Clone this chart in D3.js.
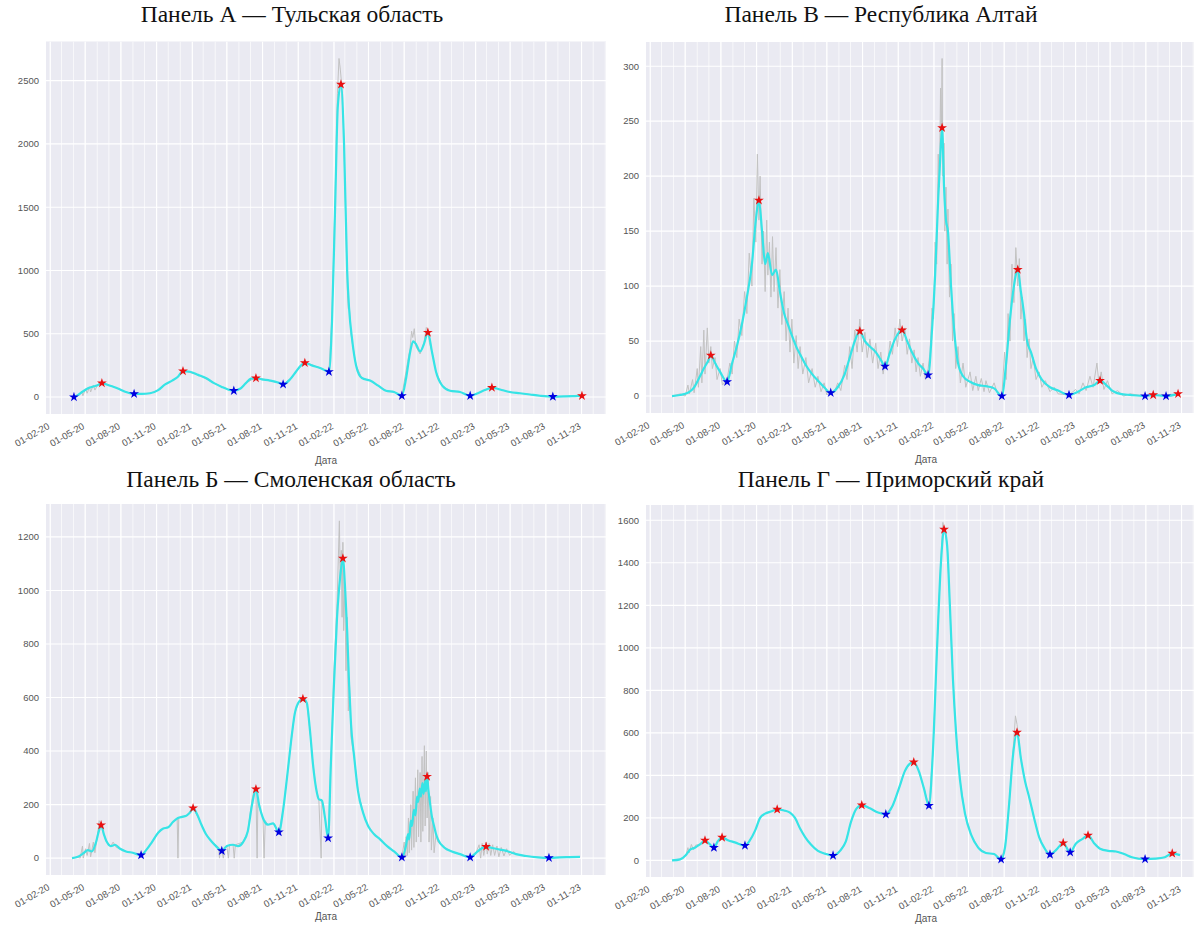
<!DOCTYPE html>
<html><head><meta charset="utf-8">
<script src="https://cdn.jsdelivr.net/npm/d3@7"></script>
<style>body{margin:0;background:#fff}svg{display:block}</style>
</head><body>
<script>
// ---------- DATA ----------
const xTickFormat = "%d-%m-%y";
const titles = ["Панель А — Тульская область","Панель В — Республика Алтай","Панель Б — Смоленская область","Панель Г — Приморский край"];
const xAxisLabel = "Дата";
const tulaTicks = [0,500,1000,1500,2000,2500];
const altaiTicks = [0,50,100,150,200,250,300];
const smolTicks = [0,200,400,600,800,1000,1200];
const primTicks = [0,200,400,600,800,1000,1200,1400,1600];

const tulaSmooth = [["2020-04-02",0],["2020-04-12",15],["2020-04-23",40],["2020-05-03",60],["2020-05-13",75],["2020-05-24",85],["2020-06-03",95],["2020-06-13",110],["2020-06-29",95],["2020-07-14",80],["2020-07-30",60],["2020-08-14",40],["2020-09-04",25],["2020-09-24",25],["2020-10-15",30],["2020-11-05",55],["2020-11-23",100],["2020-12-11",130],["2020-12-26",160],["2021-01-08",205],["2021-01-26",200],["2021-02-16",175],["2021-03-08",150],["2021-03-29",110],["2021-04-18",80],["2021-05-04",60],["2021-05-19",50],["2021-06-04",65],["2021-06-19",110],["2021-07-02",145],["2021-07-15",150],["2021-07-30",140],["2021-08-20",130],["2021-09-10",115],["2021-09-23",100],["2021-10-11",140],["2021-10-26",200],["2021-11-08",250],["2021-11-18",270],["2021-12-06",250],["2021-12-27",230],["2022-01-11",210],["2022-01-19",200],["2022-01-27",600],["2022-02-04",1500],["2022-02-11",2300],["2022-02-19",2470],["2022-02-27",2000],["2022-03-07",1000],["2022-03-12",700],["2022-03-20",450],["2022-03-30",250],["2022-04-14",150],["2022-05-05",130],["2022-05-26",90],["2022-06-15",50],["2022-07-06",40],["2022-07-26",10],["2022-08-06",150],["2022-08-16",350],["2022-08-24",440],["2022-08-31",420],["2022-09-11",360],["2022-09-21",420],["2022-10-01",510],["2022-10-12",350],["2022-10-22",200],["2022-11-07",90],["2022-11-27",50],["2022-12-23",40],["2023-01-18",10],["2023-02-07",30],["2023-02-25",55],["2023-03-15",75],["2023-04-05",60],["2023-04-30",40],["2023-05-26",30],["2023-06-21",20],["2023-07-17",10],["2023-08-19",3],["2023-09-19",5],["2023-10-15",8],["2023-11-02",10]];
const tulaRaw = [["2020-04-02",0],["2020-04-15",20],["2020-04-22",45],["2020-04-25",10],["2020-05-02",65],["2020-05-06",30],["2020-05-12",80],["2020-05-15",40],["2020-05-22",95],["2020-05-26",55],["2020-06-03",100],["2020-06-13",115],["2020-06-29",95],["2020-07-14",80],["2020-07-30",60],["2020-08-14",40],["2020-09-04",25],["2020-10-15",30],["2020-11-05",55],["2020-11-23",100],["2020-12-11",130],["2020-12-26",160],["2021-01-08",210],["2021-02-16",175],["2021-03-29",110],["2021-05-04",60],["2021-05-19",50],["2021-06-04",65],["2021-06-19",110],["2021-07-15",155],["2021-08-20",130],["2021-09-23",100],["2021-10-11",140],["2021-10-26",200],["2021-11-18",275],["2021-12-27",230],["2022-01-19",200],["2022-01-27",650],["2022-02-04",1600],["2022-02-10",2400],["2022-02-14",2675],["2022-02-17",2600],["2022-02-20",2500],["2022-02-26",2100],["2022-03-04",1300],["2022-03-08",800],["2022-03-10",700],["2022-03-12",720],["2022-03-14",650],["2022-03-17",500],["2022-03-20",430],["2022-03-30",250],["2022-04-14",150],["2022-05-05",130],["2022-05-26",90],["2022-06-15",50],["2022-07-06",40],["2022-07-26",10],["2022-08-10",280],["2022-08-16",380],["2022-08-20",520],["2022-08-23",470],["2022-08-27",540],["2022-08-31",400],["2022-09-11",340],["2022-09-21",430],["2022-09-27",550],["2022-10-01",520],["2022-10-05",430],["2022-10-12",350],["2022-10-22",200],["2022-11-07",90],["2022-11-27",50],["2022-12-23",40],["2023-01-18",10],["2023-02-07",30],["2023-02-25",55],["2023-03-15",78],["2023-04-05",60],["2023-04-30",40],["2023-05-26",30],["2023-06-21",20],["2023-07-17",10],["2023-08-19",3],["2023-09-19",5],["2023-10-15",8],["2023-11-02",10]];
const tulaPeaks = [["2020-06-13",110],["2021-01-08",205],["2021-07-15",150],["2021-11-18",270],["2022-02-19",2470],["2022-10-01",510],["2023-03-15",75],["2023-11-02",10]];
const tulaTroughs = [["2020-04-02",0],["2020-09-04",25],["2021-05-19",50],["2021-09-23",100],["2022-01-19",200],["2022-07-26",10],["2023-01-18",10],["2023-08-19",3]];

const altaiSmooth = [["2020-03-28",0],["2020-04-18",1],["2020-05-08",3],["2020-05-24",8],["2020-06-08",18],["2020-06-18",25],["2020-06-29",32],["2020-07-06",37],["2020-07-17",30],["2020-07-30",22],["2020-08-17",13],["2020-08-30",30],["2020-09-11",45],["2020-09-24",65],["2020-10-07",90],["2020-10-20",120],["2020-10-30",160],["2020-11-07",178],["2020-11-15",150],["2020-11-23",120],["2020-11-30",130],["2020-12-11",110],["2020-12-21",115],["2020-12-31",95],["2021-01-11",75],["2021-01-21",65],["2021-01-31",55],["2021-02-11",45],["2021-02-21",38],["2021-03-08",28],["2021-03-24",20],["2021-04-08",14],["2021-04-24",8],["2021-05-11",3],["2021-05-29",8],["2021-06-16",20],["2021-06-29",35],["2021-07-12",50],["2021-07-25",59],["2021-08-07",50],["2021-08-20",45],["2021-09-04",40],["2021-09-17",33],["2021-09-28",27],["2021-10-11",40],["2021-10-24",52],["2021-11-11",60],["2021-11-24",50],["2021-12-06",40],["2021-12-22",30],["2022-01-04",25],["2022-01-17",19],["2022-01-27",60],["2022-02-04",110],["2022-02-12",180],["2022-02-17",215],["2022-02-22",244],["2022-02-27",190],["2022-03-04",160],["2022-03-09",150],["2022-03-17",100],["2022-03-25",60],["2022-04-04",30],["2022-04-17",18],["2022-05-05",13],["2022-05-26",10],["2022-06-15",9],["2022-07-06",7],["2022-07-26",0],["2022-08-06",30],["2022-08-16",70],["2022-08-26",100],["2022-09-05",115],["2022-09-13",95],["2022-09-21",75],["2022-09-29",50],["2022-10-09",40],["2022-10-22",25],["2022-11-06",15],["2022-11-27",8],["2022-12-18",5],["2023-01-15",1],["2023-02-07",4],["2023-02-28",8],["2023-03-21",10],["2023-04-05",14],["2023-04-21",10],["2023-05-06",5],["2023-05-27",2],["2023-06-22",1],["2023-07-30",0],["2023-08-20",1],["2023-09-22",0],["2023-10-23",2]];
const altaiRaw = [["2020-03-28",0],["2020-04-18",2],["2020-05-01",0],["2020-05-08",10],["2020-05-12",2],["2020-05-20",15],["2020-05-24",3],["2020-06-01",25],["2020-06-04",8],["2020-06-10",45],["2020-06-13",12],["2020-06-18",60],["2020-06-21",20],["2020-06-27",62],["2020-07-01",30],["2020-07-06",45],["2020-07-10",25],["2020-07-17",35],["2020-07-22",15],["2020-07-30",25],["2020-08-05",10],["2020-08-17",15],["2020-08-24",30],["2020-08-30",20],["2020-09-05",50],["2020-09-11",35],["2020-09-17",70],["2020-09-24",55],["2020-10-01",95],["2020-10-07",75],["2020-10-13",130],["2020-10-20",100],["2020-10-25",180],["2020-10-30",140],["2020-11-03",220],["2020-11-07",160],["2020-11-10",200],["2020-11-15",120],["2020-11-19",150],["2020-11-23",95],["2020-11-27",160],["2020-11-30",110],["2020-12-04",140],["2020-12-08",90],["2020-12-12",145],["2020-12-16",95],["2020-12-21",135],["2020-12-26",80],["2020-12-31",115],["2021-01-05",65],["2021-01-11",95],["2021-01-16",50],["2021-01-21",80],["2021-01-26",40],["2021-01-31",70],["2021-02-05",30],["2021-02-11",55],["2021-02-16",25],["2021-02-21",45],["2021-02-28",20],["2021-03-08",35],["2021-03-15",12],["2021-03-24",25],["2021-04-01",8],["2021-04-08",18],["2021-04-16",4],["2021-04-24",12],["2021-05-01",1],["2021-05-11",5],["2021-05-20",3],["2021-05-29",12],["2021-06-06",5],["2021-06-16",28],["2021-06-22",15],["2021-06-29",45],["2021-07-05",25],["2021-07-12",60],["2021-07-18",40],["2021-07-25",70],["2021-07-31",40],["2021-08-07",58],["2021-08-13",35],["2021-08-20",52],["2021-08-27",30],["2021-09-04",48],["2021-09-10",25],["2021-09-17",40],["2021-09-23",20],["2021-09-28",32],["2021-10-04",28],["2021-10-11",50],["2021-10-17",38],["2021-10-24",62],["2021-10-30",45],["2021-11-05",70],["2021-11-11",50],["2021-11-18",62],["2021-11-24",38],["2021-11-30",52],["2021-12-06",30],["2021-12-12",42],["2021-12-17",22],["2021-12-22",35],["2021-12-28",18],["2022-01-04",30],["2022-01-10",15],["2022-01-17",25],["2022-01-22",40],["2022-01-27",80],["2022-01-31",70],["2022-02-04",140],["2022-02-08",120],["2022-02-12",220],["2022-02-15",190],["2022-02-18",280],["2022-02-20",230],["2022-02-22",307],["2022-02-24",200],["2022-02-27",230],["2022-03-01",150],["2022-03-04",190],["2022-03-07",120],["2022-03-09",170],["2022-03-13",90],["2022-03-17",120],["2022-03-21",50],["2022-03-25",75],["2022-03-29",25],["2022-04-04",45],["2022-04-10",12],["2022-04-17",30],["2022-04-24",8],["2022-05-05",22],["2022-05-12",5],["2022-05-20",18],["2022-05-26",5],["2022-06-03",16],["2022-06-10",4],["2022-06-15",14],["2022-06-24",3],["2022-07-06",12],["2022-07-15",2],["2022-07-26",0],["2022-08-02",40],["2022-08-06",15],["2022-08-11",75],["2022-08-16",50],["2022-08-21",120],["2022-08-26",85],["2022-08-31",135],["2022-09-05",100],["2022-09-09",125],["2022-09-13",70],["2022-09-17",90],["2022-09-21",50],["2022-09-25",70],["2022-09-29",35],["2022-10-04",52],["2022-10-09",25],["2022-10-15",35],["2022-10-22",15],["2022-10-30",22],["2022-11-06",8],["2022-11-15",14],["2022-11-27",4],["2022-12-08",8],["2022-12-18",2],["2023-01-15",1],["2023-02-01",6],["2023-02-10",2],["2023-02-20",12],["2023-02-28",5],["2023-03-10",18],["2023-03-18",8],["2023-03-28",30],["2023-04-02",12],["2023-04-08",22],["2023-04-15",6],["2023-04-24",14],["2023-05-06",2],["2023-05-20",5],["2023-06-05",0],["2023-06-22",2],["2023-07-30",0],["2023-10-23",2]];
const altaiPeaks = [["2020-07-06",37],["2020-11-07",178],["2021-07-25",59],["2021-11-11",60],["2022-02-22",244],["2022-09-05",115],["2023-04-05",14],["2023-08-20",1],["2023-10-23",2]];
const altaiTroughs = [["2020-08-17",13],["2021-05-11",3],["2021-09-28",27],["2022-01-17",19],["2022-07-26",0],["2023-01-15",1],["2023-07-30",0],["2023-09-22",0]];

const smolSmooth = [["2020-03-28",0],["2020-04-12",5],["2020-04-28",20],["2020-05-08",30],["2020-05-18",25],["2020-05-29",60],["2020-06-05",100],["2020-06-11",123],["2020-06-18",90],["2020-06-26",60],["2020-07-06",45],["2020-07-17",50],["2020-07-30",35],["2020-08-14",25],["2020-09-01",20],["2020-09-22",11],["2020-10-05",30],["2020-10-20",60],["2020-11-05",95],["2020-11-17",110],["2020-12-01",115],["2020-12-13",135],["2020-12-26",150],["2021-01-08",155],["2021-01-18",160],["2021-01-26",170],["2021-02-03",187],["2021-02-13",165],["2021-02-23",130],["2021-03-08",90],["2021-03-21",65],["2021-04-03",45],["2021-04-18",27],["2021-05-01",45],["2021-05-17",50],["2021-05-30",45],["2021-06-12",60],["2021-06-24",100],["2021-07-05",200],["2021-07-15",258],["2021-07-23",200],["2021-08-02",150],["2021-08-15",125],["2021-08-28",130],["2021-09-12",97],["2021-09-23",180],["2021-10-03",300],["2021-10-13",430],["2021-10-23",540],["2021-11-03",585],["2021-11-13",595],["2021-11-23",580],["2021-12-01",480],["2021-12-09",350],["2021-12-17",260],["2021-12-24",220],["2022-01-01",215],["2022-01-09",150],["2022-01-17",75],["2022-01-24",350],["2022-02-01",650],["2022-02-09",900],["2022-02-17",1050],["2022-02-24",1120],["2022-03-02",1000],["2022-03-07",850],["2022-03-12",650],["2022-03-17",500],["2022-03-25",380],["2022-04-04",250],["2022-04-17",170],["2022-04-30",120],["2022-05-15",90],["2022-05-31",70],["2022-06-18",45],["2022-07-06",25],["2022-07-26",3],["2022-08-06",50],["2022-08-11",90],["2022-08-14",70],["2022-08-18",140],["2022-08-21",120],["2022-08-26",180],["2022-08-30",160],["2022-09-03",230],["2022-09-06",210],["2022-09-10",260],["2022-09-13",230],["2022-09-17",280],["2022-09-20",240],["2022-09-24",290],["2022-09-26",250],["2022-09-29",305],["2022-10-02",260],["2022-10-07",200],["2022-10-12",150],["2022-10-17",120],["2022-10-22",90],["2022-10-27",70],["2022-11-12",40],["2022-12-02",25],["2022-12-23",15],["2023-01-18",3],["2023-02-02",20],["2023-02-15",35],["2023-02-28",43],["2023-03-15",38],["2023-04-05",32],["2023-04-26",25],["2023-05-16",15],["2023-06-11",8],["2023-07-12",3],["2023-08-09",1],["2023-09-06",3],["2023-10-02",4],["2023-10-28",5]];
const smolRaw = [["2020-03-28",0],["2020-04-12",5],["2020-04-18",0],["2020-04-24",45],["2020-04-26",0],["2020-05-02",35],["2020-05-06",10],["2020-05-12",55],["2020-05-15",5],["2020-05-22",60],["2020-05-26",20],["2020-06-02",90],["2020-06-06",140],["2020-06-11",125],["2020-06-16",100],["2020-06-22",70],["2020-06-29",55],["2020-07-06",45],["2020-07-12",60],["2020-07-20",40],["2020-07-30",35],["2020-08-14",25],["2020-09-01",20],["2020-09-22",11],["2020-10-05",30],["2020-10-20",60],["2020-11-05",95],["2020-11-17",110],["2020-12-01",115],["2020-12-13",135],["2020-12-24",150],["2020-12-26",0],["2020-12-28",150],["2021-01-18",160],["2021-02-03",190],["2021-02-23",130],["2021-03-08",90],["2021-03-21",65],["2021-04-10",40],["2021-04-12",0],["2021-04-14",35],["2021-04-18",27],["2021-04-22",0],["2021-04-25",40],["2021-05-01",45],["2021-05-05",0],["2021-05-08",50],["2021-05-17",50],["2021-05-20",0],["2021-05-23",50],["2021-06-12",60],["2021-06-24",100],["2021-07-05",220],["2021-07-12",265],["2021-07-15",250],["2021-07-18",0],["2021-07-20",220],["2021-07-23",190],["2021-08-02",150],["2021-08-05",0],["2021-08-08",140],["2021-08-15",125],["2021-08-28",130],["2021-09-12",97],["2021-09-23",180],["2021-10-03",300],["2021-10-13",430],["2021-10-23",540],["2021-11-03",585],["2021-11-13",600],["2021-11-23",580],["2021-12-01",480],["2021-12-09",350],["2021-12-17",260],["2021-12-24",220],["2021-12-30",0],["2022-01-01",215],["2022-01-09",150],["2022-01-17",75],["2022-01-24",350],["2022-02-01",700],["2022-02-09",950],["2022-02-15",1260],["2022-02-17",1050],["2022-02-20",1150],["2022-02-22",900],["2022-02-24",1180],["2022-02-26",850],["2022-03-01",1000],["2022-03-04",700],["2022-03-07",900],["2022-03-10",550],["2022-03-13",650],["2022-03-17",450],["2022-03-25",380],["2022-04-04",250],["2022-04-17",170],["2022-04-30",120],["2022-05-15",90],["2022-05-31",70],["2022-06-18",45],["2022-07-06",25],["2022-07-26",3],["2022-08-01",60],["2022-08-03",0],["2022-08-06",80],["2022-08-09",10],["2022-08-12",150],["2022-08-14",20],["2022-08-18",200],["2022-08-20",30],["2022-08-24",250],["2022-08-26",40],["2022-08-30",300],["2022-09-01",60],["2022-09-05",330],["2022-09-07",80],["2022-09-11",320],["2022-09-13",60],["2022-09-16",380],["2022-09-18",100],["2022-09-22",420],["2022-09-24",120],["2022-09-27",400],["2022-09-29",150],["2022-10-02",320],["2022-10-04",60],["2022-10-08",230],["2022-10-10",30],["2022-10-14",150],["2022-10-17",20],["2022-10-22",90],["2022-10-27",60],["2022-11-12",40],["2022-12-02",25],["2022-12-23",15],["2023-01-18",3],["2023-02-02",20],["2023-02-10",50],["2023-02-14",0],["2023-02-18",55],["2023-02-22",10],["2023-02-28",60],["2023-03-03",15],["2023-03-08",55],["2023-03-12",10],["2023-03-17",50],["2023-03-22",10],["2023-03-28",45],["2023-04-02",5],["2023-04-08",40],["2023-04-15",8],["2023-04-22",35],["2023-04-30",10],["2023-05-10",25],["2023-05-16",15],["2023-06-11",8],["2023-07-12",3],["2023-08-09",1],["2023-09-06",3],["2023-10-02",4],["2023-10-28",5]];
const smolPeaks = [["2020-06-11",123],["2021-02-03",187],["2021-07-15",258],["2021-11-13",595],["2022-02-24",1120],["2022-09-29",305],["2023-02-28",43]];
const smolTroughs = [["2020-09-22",11],["2021-04-18",27],["2021-09-12",97],["2022-01-17",75],["2022-07-26",3],["2023-01-18",3],["2023-08-09",1]];

const primSmooth = [["2020-03-28",0],["2020-04-18",5],["2020-05-03",25],["2020-05-13",50],["2020-05-26",60],["2020-06-08",75],["2020-06-21",94],["2020-07-01",80],["2020-07-14",60],["2020-07-24",90],["2020-08-04",108],["2020-08-19",95],["2020-09-06",85],["2020-10-02",70],["2020-10-15",95],["2020-10-28",140],["2020-11-10",200],["2020-11-23",220],["2020-12-08",230],["2020-12-24",240],["2021-01-11",235],["2021-01-26",225],["2021-02-08",200],["2021-02-21",150],["2021-03-06",110],["2021-03-21",75],["2021-04-08",45],["2021-04-26",32],["2021-05-17",23],["2021-06-04",45],["2021-06-19",90],["2021-07-02",180],["2021-07-15",240],["2021-07-30",260],["2021-08-20",245],["2021-09-10",225],["2021-09-30",217],["2021-10-18",260],["2021-11-03",340],["2021-11-18",420],["2021-12-01",455],["2021-12-11",462],["2021-12-24",420],["2022-01-06",340],["2022-01-19",258],["2022-01-29",500],["2022-02-09",1000],["2022-02-19",1400],["2022-02-27",1557],["2022-03-07",1480],["2022-03-14",1200],["2022-03-22",850],["2022-03-30",600],["2022-04-09",380],["2022-04-22",220],["2022-05-08",120],["2022-05-26",60],["2022-06-15",35],["2022-07-06",30],["2022-07-24",5],["2022-08-03",60],["2022-08-13",250],["2022-08-24",500],["2022-09-03",602],["2022-09-13",480],["2022-09-24",370],["2022-10-04",300],["2022-10-17",200],["2022-10-30",110],["2022-11-12",60],["2022-11-27",28],["2022-12-13",50],["2022-12-31",82],["2023-01-18",38],["2023-02-02",80],["2023-02-18",100],["2023-03-05",118],["2023-03-21",80],["2023-04-05",55],["2023-04-26",45],["2023-05-16",42],["2023-06-06",30],["2023-06-26",15],["2023-07-30",6],["2023-08-25",8],["2023-09-19",15],["2023-10-08",33],["2023-10-28",25]];
const primRaw = [["2020-03-28",0],["2020-04-18",5],["2020-05-03",25],["2020-05-08",60],["2020-05-11",35],["2020-05-17",75],["2020-05-22",50],["2020-05-28",72],["2020-06-08",75],["2020-06-21",100],["2020-07-01",80],["2020-07-14",60],["2020-07-24",90],["2020-08-04",112],["2020-08-19",95],["2020-09-06",85],["2020-10-02",70],["2020-10-15",95],["2020-10-28",140],["2020-11-10",200],["2020-11-23",220],["2020-12-08",230],["2020-12-24",245],["2021-01-11",235],["2021-01-26",225],["2021-02-08",200],["2021-02-21",150],["2021-03-06",110],["2021-03-21",75],["2021-04-08",45],["2021-04-26",32],["2021-05-17",23],["2021-06-04",45],["2021-06-19",90],["2021-07-02",180],["2021-07-15",240],["2021-07-30",265],["2021-08-20",245],["2021-09-10",225],["2021-09-30",217],["2021-10-18",260],["2021-11-03",340],["2021-11-18",420],["2021-12-01",455],["2021-12-11",470],["2021-12-24",420],["2022-01-06",340],["2022-01-19",258],["2022-01-29",500],["2022-02-09",1000],["2022-02-19",1420],["2022-02-24",1590],["2022-02-27",1560],["2022-03-07",1490],["2022-03-14",1200],["2022-03-22",850],["2022-03-30",600],["2022-04-09",380],["2022-04-22",220],["2022-05-08",120],["2022-05-26",60],["2022-06-15",35],["2022-07-06",30],["2022-07-24",5],["2022-08-03",60],["2022-08-13",250],["2022-08-24",520],["2022-08-30",680],["2022-09-03",640],["2022-09-08",560],["2022-09-13",480],["2022-09-24",370],["2022-10-04",300],["2022-10-17",200],["2022-10-30",110],["2022-11-12",60],["2022-11-27",28],["2022-12-13",50],["2022-12-31",85],["2023-01-18",38],["2023-02-02",80],["2023-02-18",100],["2023-03-05",120],["2023-03-21",80],["2023-04-05",55],["2023-04-26",45],["2023-05-16",42],["2023-06-06",30],["2023-06-26",15],["2023-07-30",6],["2023-08-25",8],["2023-09-19",15],["2023-10-08",35],["2023-10-28",25]];
const primPeaks = [["2020-06-21",94],["2020-08-04",108],["2020-12-24",240],["2021-07-30",260],["2021-12-11",462],["2022-02-27",1557],["2022-09-03",602],["2022-12-31",82],["2023-03-05",118],["2023-10-08",33]];
const primTroughs = [["2020-07-14",60],["2020-10-02",70],["2021-05-17",23],["2021-09-30",217],["2022-01-19",258],["2022-07-24",5],["2022-11-27",28],["2023-01-18",38],["2023-07-30",6]];

// ---------- LAYOUT ----------
const W = 1194, H = 927;
const parse = d3.timeParse("%Y-%m-%d");
const xStart = parse("2020-01-21"), xEnd = parse("2024-01-03");
const panels = [
  {title: titles[0], tx: 292, ty: 22, left: 46, right: 606, top: 41.5, bottom: 414, yDom: [-134, 2809], ticks: tulaTicks, smooth: tulaSmooth, raw: tulaRaw, peaks: tulaPeaks, troughs: tulaTroughs},
  {title: titles[1], tx: 881, ty: 22, left: 646, right: 1206, top: 42, bottom: 413, yDom: [-15.4, 322], ticks: altaiTicks, smooth: altaiSmooth, raw: altaiRaw, peaks: altaiPeaks, troughs: altaiTroughs},
  {title: titles[2], tx: 291, ty: 487, left: 46, right: 606, top: 504, bottom: 875, yDom: [-63, 1323], ticks: smolTicks, smooth: smolSmooth, raw: smolRaw, peaks: smolPeaks, troughs: smolTroughs},
  {title: titles[3], tx: 891, ty: 487, left: 646, right: 1206, top: 505, bottom: 877, yDom: [-78, 1672], ticks: primTicks, smooth: primSmooth, raw: primRaw, peaks: primPeaks, troughs: primTroughs}
];

const svg = d3.select("body").append("svg").attr("width", W).attr("height", H)
  .style("font-family", "'Liberation Sans', Arial, sans-serif");
svg.append("rect").attr("width", W).attr("height", H).attr("fill", "#fff");

const fmt = d3.timeFormat(xTickFormat);
const star = d3.symbol().type(d3.symbolStar).size(30);

panels.forEach((p, i) => {
  const x = d3.scaleTime().domain([xStart, xEnd]).range([p.left, p.right]);
  const y = d3.scaleLinear().domain(p.yDom).range([p.bottom, p.top]);
  const g = svg.append("g");
  const cid = "clip" + i;
  svg.append("clipPath").attr("id", cid).append("rect")
    .attr("x", p.left).attr("y", p.top).attr("width", p.right - p.left).attr("height", p.bottom - p.top);

  g.append("rect").attr("x", p.left).attr("y", p.top)
    .attr("width", p.right - p.left).attr("height", p.bottom - p.top).attr("fill", "#eaeaf2");

  const grid = g.append("g").attr("clip-path", `url(#${cid})`);
  const months = d3.timeMonths(xStart, xEnd);
  const majors = months.filter(d => (d.getMonth() + 2) % 3 === 0);
  grid.selectAll(".minor").data(months).join("line")
    .attr("x1", d => x(d)).attr("x2", d => x(d)).attr("y1", p.top).attr("y2", p.bottom)
    .attr("stroke", "#fff").attr("stroke-width", 0.8).attr("opacity", 0.85);
  grid.selectAll(".major").data(majors).join("line")
    .attr("x1", d => x(d)).attr("x2", d => x(d)).attr("y1", p.top).attr("y2", p.bottom)
    .attr("stroke", "#fff").attr("stroke-width", 1.1);
  grid.selectAll(".hy").data(p.ticks).join("line")
    .attr("x1", p.left).attr("x2", p.right).attr("y1", d => y(d)).attr("y2", d => y(d))
    .attr("stroke", "#fff").attr("stroke-width", 1.1);

  g.selectAll(".yl").data(p.ticks).join("text")
    .attr("x", p.left - 7).attr("y", d => y(d)).attr("dy", "0.35em")
    .attr("text-anchor", "end").attr("font-size", 9.5).attr("fill", "#555")
    .text(d => d);

  g.selectAll(".xl").data(majors).join("text")
    .attr("transform", d => `translate(${x(d)},${p.bottom + 14}) rotate(-30)`)
    .attr("text-anchor", "end").attr("font-size", 9.5).attr("fill", "#555")
    .text(d => fmt(d));

  g.append("text").attr("x", (p.left + Math.min(p.right, 1194)) / 2 + (i % 2 ? 6 : 0))
    .attr("y", p.bottom + (i < 2 ? 50 : 45))
    .attr("text-anchor", "middle").attr("font-size", 10).attr("fill", "#555").text(xAxisLabel);

  svg.append("text").attr("x", p.tx).attr("y", p.ty).attr("text-anchor", "middle")
    .attr("font-family", "'Liberation Serif', 'Times New Roman', serif")
    .attr("font-size", 23.5).attr("fill", "#111").text(p.title);

  const plot = g.append("g").attr("clip-path", `url(#${cid})`);
  const lineRaw = d3.line().x(d => x(parse(d[0]))).y(d => y(d[1]));
  const lineSm = d3.line().x(d => x(parse(d[0]))).y(d => y(d[1])).curve(d3.curveMonotoneX);
  plot.append("path").datum(p.raw).attr("d", lineRaw)
    .attr("fill", "none").attr("stroke", "#c2c2c2").attr("stroke-width", 1);
  plot.append("path").datum(p.smooth).attr("d", lineSm)
    .attr("fill", "none").attr("stroke", "#36e4e6").attr("stroke-width", 2.2);
  plot.selectAll(".pk").data(p.peaks).join("path")
    .attr("transform", d => `translate(${x(parse(d[0]))},${y(d[1])})`)
    .attr("d", star).attr("fill", "#e81010");
  plot.selectAll(".tr").data(p.troughs).join("path")
    .attr("transform", d => `translate(${x(parse(d[0]))},${y(d[1])})`)
    .attr("d", star).attr("fill", "#0000e0");
});
</script>
</body></html>
